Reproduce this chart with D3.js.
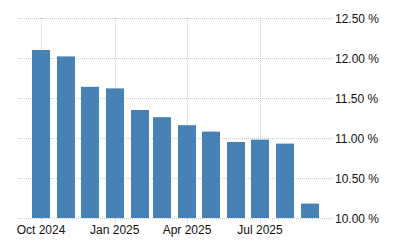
<!DOCTYPE html>
<html>
<head>
<meta charset="utf-8">
<script src="https://cdn.jsdelivr.net/npm/d3@7"></script>
<style>
  body { margin: 0; background: #fff; }
  text { font-family: "Liberation Sans", Arial, sans-serif; }
</style>
</head>
<body>
<div id="chart"></div>
<script>
// Monthly values, Oct 2024 .. Sep 2025
const months = ["2024-10", "2024-11", "2024-12", "2025-01", "2025-02", "2025-03",
                "2025-04", "2025-05", "2025-06", "2025-07", "2025-08", "2025-09"];
const values = [12.10, 12.02, 11.64, 11.62, 11.35, 11.26,
                11.16, 11.08, 10.95, 10.98, 10.93, 10.18];
const yTicks = [10, 10.5, 11, 11.5, 12, 12.5];
const xTicks = ["2024-10", "2025-01", "2025-04", "2025-07"];

const parse = d3.timeParse("%Y-%m");
const data = months.map((m, i) => ({date: parse(m), value: values[i]}));

const width = 400, height = 250;
const gridLeft = 18, gridRight = 333;

const svg = d3.select("#chart")
  .append("svg")
    .attr("width", width)
    .attr("height", height);

// x: time scale, bars centred on the first of each month
const x = d3.scaleTime()
    .domain([parse("2024-10"), parse("2025-07")])
    .range([41, 260]);

const y = d3.scaleLinear()
    .domain([10, 12.5])
    .range([218, 18]);

const gridColor = "#c8c8c8";

// horizontal grid + right labels
const yg = svg.append("g");
yg.selectAll("line")
  .data(yTicks)
  .enter().append("line")
    .attr("x1", gridLeft)
    .attr("x2", gridRight)
    .attr("y1", d => Math.round(y(d)) + 0.5)
    .attr("y2", d => Math.round(y(d)) + 0.5)
    .attr("stroke", gridColor)
    .attr("stroke-dasharray", "1,1");
yg.selectAll("text")
  .data(yTicks)
  .enter().append("text")
    .attr("x", 335)
    .attr("y", d => y(d) + 4.5)
    .attr("font-size", 12)
    .attr("fill", "#111")
    .text(d => d3.format(".2f")(d) + " %");

// vertical grid + bottom labels
const xg = svg.append("g");
xg.selectAll("line")
  .data(xTicks)
  .enter().append("line")
    .attr("x1", d => Math.round(x(parse(d))) + 0.5)
    .attr("x2", d => Math.round(x(parse(d))) + 0.5)
    .attr("y1", y(12.5))
    .attr("y2", 223)
    .attr("stroke", gridColor)
    .attr("stroke-dasharray", "1,1");
xg.selectAll("text")
  .data(xTicks)
  .enter().append("text")
    .attr("x", d => x(parse(d)))
    .attr("y", 234)
    .attr("text-anchor", "middle")
    .attr("font-size", 12)
    .attr("fill", "#111")
    .text(d => d3.timeFormat("%b %Y")(parse(d)));

// bars
const barW = 18;
svg.append("g")
  .selectAll("rect")
  .data(data)
  .enter().append("rect")
    .attr("x", d => Math.round(x(d.date) - barW / 2))
    .attr("y", d => y(d.value))
    .attr("width", barW)
    .attr("height", d => y(10) - y(d.value))
    .attr("fill", "#4682b4");
</script>
</body>
</html>
